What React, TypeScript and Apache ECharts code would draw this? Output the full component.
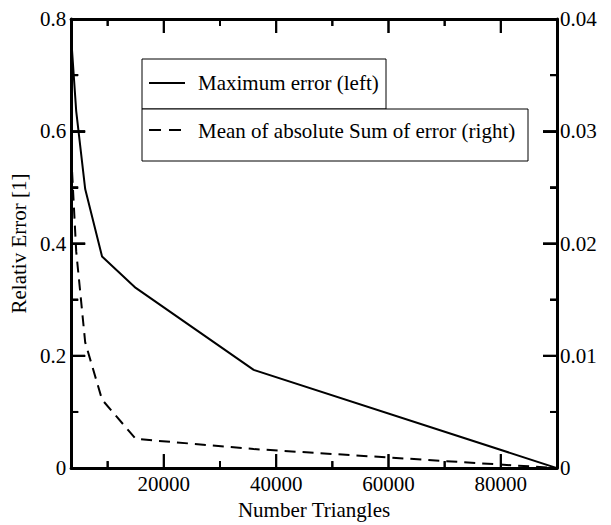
import React, { useEffect, useRef } from "react";
import * as echarts from "echarts";

const xValues = [3500, 4400, 6000, 9000, 15000, 36000, 90000];
const maxError = [0.767, 0.636, 0.497, 0.377, 0.321, 0.175, 0];
const meanAbsSumError = [0.028, 0.0193, 0.0112, 0.0061, 0.0026, 0.0017, 0];
const xMajorTicks = [20000, 40000, 60000, 80000];
const xMinorTicks = [10000, 30000, 50000, 70000];
const yLeftMajorTicks = [0, 0.2, 0.4, 0.6, 0.8];
const yLeftMinorTicks = [0.1, 0.3, 0.5, 0.7];
const yRightMajorTicks = [0, 0.01, 0.02, 0.03, 0.04];
const yRightMinorTicks = [0.005, 0.015, 0.025, 0.035];
const legendNames = ["Maximum error (left)", "Mean of absolute Sum of error (right)"];

const X_MIN = 3500;
const X_MAX = 90000;
const YL_MAX = 0.8;
const YR_MAX = 0.04;
const FONT = "Liberation Serif";
const MAJOR = 14;
const MINOR = 7;

export default function App() {
  const ref = useRef<HTMLDivElement>(null);
  useEffect(() => {
    if (!ref.current) return;
    const chart = echarts.init(ref.current, undefined, { renderer: "svg" });
    const label = { fontFamily: FONT, fontSize: 21, color: "#000" };
    const axisLine = { show: true, onZero: false, lineStyle: { color: "#000", width: 3 } };
    const tickStyle = { color: "#000", width: 2 };

    const legendGraphics: any[] = [
      { type: "rect", shape: { x: 142, y: 59, width: 244, height: 50 }, style: { fill: "#fff", stroke: "#000", lineWidth: 1 }, z: 10 },
      { type: "rect", shape: { x: 142, y: 109, width: 386, height: 52 }, style: { fill: "#fff", stroke: "#000", lineWidth: 1 }, z: 10 },
      { type: "line", shape: { x1: 149, y1: 83, x2: 185, y2: 83 }, style: { stroke: "#000", lineWidth: 2 }, z: 11 },
      { type: "line", shape: { x1: 149, y1: 130, x2: 181, y2: 130 }, style: { stroke: "#000", lineWidth: 2, lineDash: [12, 8] }, z: 11 },
      { type: "text", x: 198, y: 83, style: { text: legendNames[0], font: `21px "${FONT}"`, fill: "#000", textVerticalAlign: "middle", verticalAlign: "middle" }, z: 11 },
      { type: "text", x: 198, y: 131, style: { text: legendNames[1], font: `21px "${FONT}"`, fill: "#000", textVerticalAlign: "middle", verticalAlign: "middle" }, z: 11 },
    ];

    // tick list: [x, y, dx, dy], placed through the axes' scales, drawn inward from the frame
    const leftTicks: number[][] = [
      ...xMajorTicks.map((v) => [v, 0, 0, -MAJOR]),
      ...xMinorTicks.map((v) => [v, 0, 0, -MINOR]),
      ...xMajorTicks.map((v) => [v, YL_MAX, 0, MAJOR]),
      ...xMinorTicks.map((v) => [v, YL_MAX, 0, MINOR]),
      ...yLeftMajorTicks.map((v) => [X_MIN, v, MAJOR, 0]),
      ...yLeftMinorTicks.map((v) => [X_MIN, v, MINOR, 0]),
    ];
    const rightTicks: number[][] = [
      ...yRightMajorTicks.map((v) => [X_MAX, v, -MAJOR, 0]),
      ...yRightMinorTicks.map((v) => [X_MAX, v, -MINOR, 0]),
    ];
    const makeRender = (list: number[][]) => (params: any, api: any) => {
      const item = list[params.dataIndex];
      const p = api.coord([item[0], item[1]]);
      return {
        type: "line",
        shape: { x1: p[0], y1: p[1], x2: p[0] + item[2], y2: p[1] + item[3] },
        style: { stroke: "#000", lineWidth: 2, fill: null },
      };
    };

    chart.setOption({
      animation: false,
      backgroundColor: "#fff",
      textStyle: { fontFamily: FONT, fontSize: 21, color: "#000" },
      grid: { left: 69, right: 54, top: 19, bottom: 47, containLabel: false },
      xAxis: [
        {
          type: "value",
          min: X_MIN,
          max: X_MAX,
          position: "bottom",
          name: "Number Triangles",
          nameLocation: "middle",
          nameGap: 25,
          nameTextStyle: { ...label },
          splitLine: { show: false },
          axisLine,
          axisTick: { show: false },
          axisLabel: { show: true, margin: 5, customValues: xMajorTicks, formatter: (v: number) => String(v), ...label },
        },
        {
          type: "value",
          min: X_MIN,
          max: X_MAX,
          position: "top",
          splitLine: { show: false },
          axisLine,
          axisTick: { show: false },
          axisLabel: { show: false },
        },
      ],
      yAxis: [
        {
          type: "value",
          position: "left",
          min: 0,
          max: YL_MAX,
          interval: 0.2,
          name: "Relativ Error [1]",
          nameLocation: "middle",
          nameGap: 34,
          nameTextStyle: { ...label },
          splitLine: { show: false },
          axisLine,
          axisTick: { show: true, inside: true, length: MAJOR, lineStyle: tickStyle },
          minorTick: { show: true, splitNumber: 2, length: MINOR, lineStyle: tickStyle },
          minorSplitLine: { show: false },
          axisLabel: { show: true, margin: 5, customValues: yLeftMajorTicks, ...label },
        },
        {
          type: "value",
          position: "right",
          min: 0,
          max: YR_MAX,
          interval: 0.01,
          splitLine: { show: false },
          axisLine,
          axisTick: { show: true, inside: true, length: MAJOR, lineStyle: tickStyle },
          minorTick: { show: true, splitNumber: 2, length: MINOR, lineStyle: tickStyle },
          minorSplitLine: { show: false },
          axisLabel: { show: true, margin: 3, customValues: yRightMajorTicks, ...label },
        },
      ],
      series: [
        {
          name: legendNames[0],
          type: "line",
          xAxisIndex: 0,
          yAxisIndex: 0,
          data: xValues.map((x, i) => [x, maxError[i]]),
          showSymbol: false,
          symbol: "none",
          lineStyle: { color: "#000", width: 2, type: "solid" },
          z: 1,
        },
        {
          name: legendNames[1],
          type: "line",
          xAxisIndex: 0,
          yAxisIndex: 1,
          data: xValues.map((x, i) => [x, meanAbsSumError[i]]),
          showSymbol: false,
          symbol: "none",
          lineStyle: { color: "#000", width: 2, type: [11, 7] },
          z: 1,
        },
        {
          type: "custom",
          xAxisIndex: 0,
          yAxisIndex: 0,
          dimensions: ["x", "y", "dx", "dy"],
          data: leftTicks,
          encode: { x: 0, y: 1 },
          renderItem: makeRender(leftTicks),
          silent: true,
          clip: false,
          z: 3,
        },
        {
          type: "custom",
          xAxisIndex: 0,
          yAxisIndex: 1,
          dimensions: ["x", "y", "dx", "dy"],
          data: rightTicks,
          encode: { x: 0, y: 1 },
          renderItem: makeRender(rightTicks),
          silent: true,
          clip: false,
          z: 3,
        },
      ],
      graphic: legendGraphics,
    });

    const L = { xAxisIndex: 0, yAxisIndex: 0 };
    const R = { xAxisIndex: 0, yAxisIndex: 1 };
    const toLine = (finder: any, t: number[]) => {
      const p = chart.convertToPixel(finder, [t[0], t[1]]) as number[];
      return {
        type: "line",
        shape: { x1: p[0], y1: p[1], x2: p[0] + t[2], y2: p[1] + t[3] },
        style: { stroke: "#000", lineWidth: 2 },
        z: 5,
      };
    };
    const tickGraphics = [...leftTicks.map((t) => toLine(L, t)), ...rightTicks.map((t) => toLine(R, t))];
    chart.setOption({ graphic: [...legendGraphics, ...tickGraphics] });

    return () => chart.dispose();
  }, []);
  return <div ref={ref} style={{ position: "fixed", left: 0, top: 0, width: 611, height: 525 }} />;
}
